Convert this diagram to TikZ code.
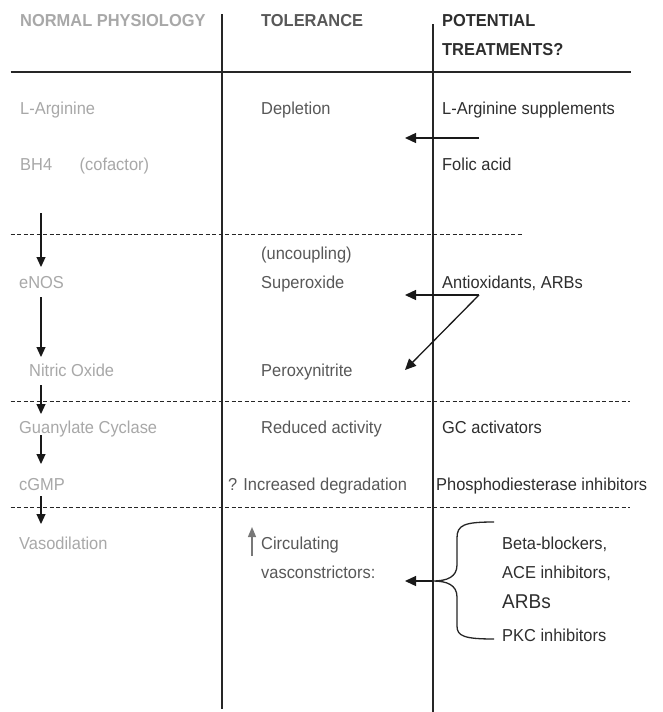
\documentclass[tikz,border=0pt]{standalone}
\usepackage{fontspec}
\setmainfont{Liberation Sans}[FakeStretch=0.95]
\usetikzlibrary{arrows.meta}
\definecolor{lgray}{HTML}{A8A8A8}
\definecolor{mgray}{HTML}{585858}
\definecolor{dgray}{HTML}{2E2E2E}
\definecolor{agray}{HTML}{787878}
\begin{document}
\begin{tikzpicture}[x=1pt,y=-1pt,
  txt/.style={inner sep=0pt, anchor=base west, font=\fontsize{17.3}{19}\selectfont},
  hdr/.style={txt, font=\fontsize{17.3}{19}\selectfont\bfseries},
  lcol/.style={txt, text=lgray},
  mcol/.style={txt, text=mgray},
  rcol/.style={txt, text=dgray},
  vline/.style={line width=1.3pt, draw=black!85},
  hline/.style={line width=1.5pt, draw=black!85},
  dline/.style={line width=0.9pt, draw=black!85, dash pattern=on 4pt off 2.5pt},
  varrow/.style={line width=1.2pt, draw=black!90, -{Triangle[length=10pt,width=9pt]}},
  harrow/.style={line width=1.3pt, draw=black!90, -{Triangle[length=11pt,width=10pt]}},
  garrow/.style={line width=1.2pt, draw=agray, -{Triangle[length=10pt,width=8pt]}}]
\useasboundingbox[fill=white] (0,0) rectangle (663,712);

% grid lines
\draw[vline] (222,14) -- (222,709);
\draw[vline] (433,24) -- (433,712);
\draw[hline] (10.6,72) -- (631,72);
\draw[dline] (10.6,234) -- (524,234);
\draw[dline] (10.6,401) -- (630,401);
\draw[dline] (10.6,507) -- (630,507);

% headers
\node[hdr, text=lgray] (h1) at (20,27) {NORMAL PHYSIOLOGY};
\node[hdr, text=mgray] (h2) at (261,27) {TOLERANCE};
\node[hdr, text=dgray] (h3) at (442,27) {POTENTIAL};
\node[hdr, text=dgray] (h4) at (442,55) {TREATMENTS?};

% left column
\node[lcol] (larg) at (20,114) {L-Arginine};
\node[lcol] (bh4) at (20,170) {BH4};
\node[lcol] (cof) at (79.5,170) {(cofactor)};
\node[lcol] (enos) at (19,288) {eNOS};
\node[lcol] (no) at (29,376) {Nitric Oxide};
\node[lcol] (gc) at (19,433) {Guanylate Cyclase};
\node[lcol] (cgmp) at (19,490) {cGMP};
\node[lcol] (vaso) at (19,549) {Vasodilation};

% middle column
\node[mcol] (depl) at (261,114) {Depletion};
\node[mcol] (unc) at (261,259) {(uncoupling)};
\node[mcol] (sup) at (261,288) {Superoxide};
\node[mcol] (perox) at (261,376) {Peroxynitrite};
\node[mcol] (red) at (261,433) {Reduced activity};
\node[mcol] (deg) at (228,490) {? Increased degradation};
\node[mcol] (circ) at (261,549) {Circulating};
\node[mcol] (vcon) at (261,578) {vasconstrictors:};

% right column
\node[rcol] (lsup) at (442,114) {L-Arginine supplements};
\node[rcol] (folic) at (442,170) {Folic acid};
\node[rcol] (antiox) at (442,288) {Antioxidants, ARBs};
\node[rcol] (gcact) at (442,433) {GC activators};
\node[rcol] (pde) at (436,490) {Phosphodiesterase inhibitors};
\node[rcol] (beta) at (502,549) {Beta-blockers,};
\node[rcol] (ace) at (502,578) {ACE inhibitors,};
\node[rcol, font=\fontsize{20}{22}\selectfont] (arbs) at (502,608) {ARBs};
\node[rcol] (pkc) at (502,641) {PKC inhibitors};

% coordinates for connectors
\coordinate (a1s) at (41,213); \coordinate (a1e) at (41,267);
\coordinate (a2s) at (41,297); \coordinate (a2e) at (41,357);
\coordinate (a3s) at (41,385); \coordinate (a3e) at (41,414);
\coordinate (a4s) at (41,435); \coordinate (a4e) at (41,464);
\coordinate (a5s) at (41,496); \coordinate (a5e) at (41,524);
\coordinate (larS) at (479,138); \coordinate (larE) at (405,138);
\coordinate (aoS) at (479,295); \coordinate (aoE1) at (405,295); \coordinate (aoE2) at (405,370);
\coordinate (brT) at (433,581); \coordinate (brE) at (405,581);
\coordinate (upS) at (252,556); \coordinate (upE) at (252,527);

% pathway arrows
\draw[varrow] (a1s) -- (a1e);
\draw[varrow] (a2s) -- (a2e);
\draw[varrow] (a3s) -- (a3e);
\draw[varrow] (a4s) -- (a4e);
\draw[varrow] (a5s) -- (a5e);

% treatment arrows
\draw[harrow] (larS) -- (larE);
\draw[harrow] (aoS) -- (aoE1);
\draw[harrow] (aoS) -- (aoE2);
\draw[harrow] (brT) -- (brE);
\draw[garrow] (upS) -- (upE);

% brace
\draw[line width=1.3pt, draw=black!85]
  (494,522) .. controls (464,522) and (457,525) .. (457,538) -- (457,565)
  .. controls (457,577) and (447,581) .. (brT)
  .. controls (447,581) and (457,585) .. (457,597) -- (457,626)
  .. controls (457,636) and (464,639) .. (494,639);
\end{tikzpicture}
\end{document}
